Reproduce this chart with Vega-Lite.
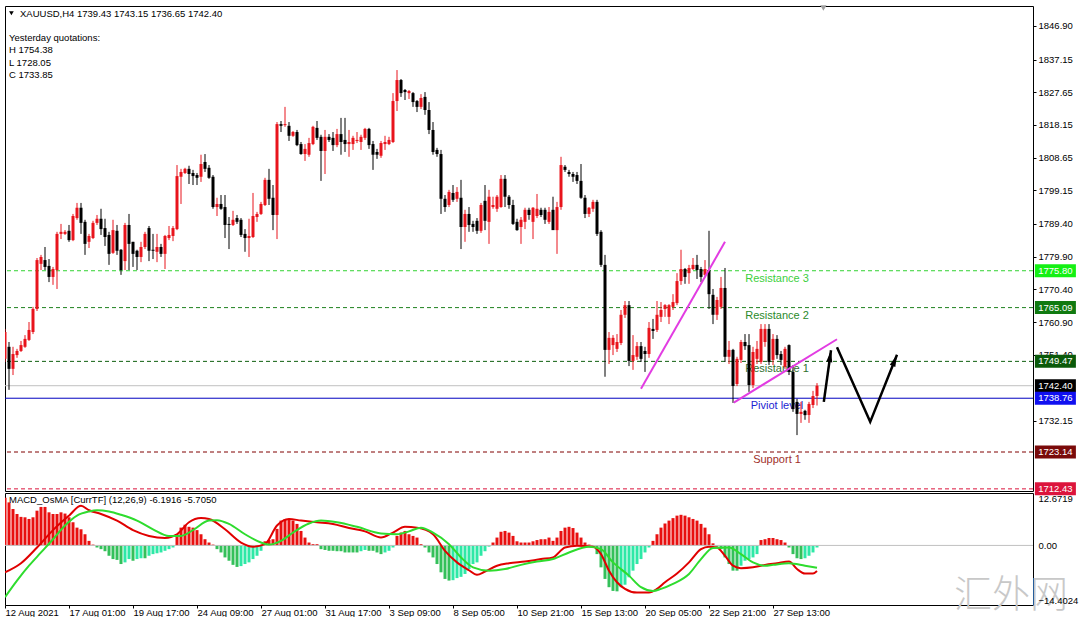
{
"$schema":"https://vega.github.io/schema/vega-lite/v6.json",
"background":"white",
"padding":{"left":4,"top":4,"right":0,"bottom":0},
"spacing":2,
"bounds":"flush",
"config":{"view":{"stroke":"black","strokeWidth":1},"font":"Liberation Sans","axis":{"labelFont":"Liberation Sans","labelFontSize":9.5,"labelColor":"black","tickColor":"black","domain":false,"grid":false,"labelOverlap":false},"scale":{"continuousPadding":0}},
"resolve":{"scale":{"x":"independent","y":"independent","color":"independent"}},
"datasets":{
"candles":[
{"i":0,"o":1750.2,"h":1758.9,"l":1749.3,"c":1758.0},{"i":1,"o":1753.7,"h":1755.1,"l":1741.2,"c":1747.3},{"i":2,"o":1747.3,"h":1753.7,"l":1745.5,"c":1751.6},{"i":3,"o":1751.3,"h":1753.1,"l":1750.5,"c":1752.5},{"i":4,"o":1752.5,"h":1755.4,"l":1752.2,"c":1754.2},{"i":5,"o":1753.7,"h":1757.1,"l":1753.4,"c":1756.0},{"i":6,"o":1755.7,"h":1760.9,"l":1755.4,"c":1758.6},{"i":7,"o":1758.0,"h":1765.3,"l":1757.4,"c":1764.7},{"i":8,"o":1764.7,"h":1779.5,"l":1764.1,"c":1778.9},{"i":9,"o":1777.8,"h":1780.4,"l":1776.0,"c":1779.8},
{"i":10,"o":1778.9,"h":1782.7,"l":1776.0,"c":1776.9},{"i":11,"o":1777.2,"h":1779.2,"l":1772.5,"c":1774.0},{"i":12,"o":1774.0,"h":1776.9,"l":1771.7,"c":1776.3},{"i":13,"o":1776.0,"h":1787.1,"l":1770.5,"c":1786.5},{"i":14,"o":1786.5,"h":1789.4,"l":1785.0,"c":1787.1},{"i":15,"o":1786.5,"h":1787.6,"l":1786.2,"c":1787.1},{"i":16,"o":1787.4,"h":1789.1,"l":1784.2,"c":1784.7},{"i":17,"o":1784.7,"h":1792.3,"l":1784.4,"c":1791.7},{"i":18,"o":1791.1,"h":1795.5,"l":1790.6,"c":1794.1},{"i":19,"o":1794.1,"h":1795.5,"l":1786.5,"c":1789.7},
{"i":20,"o":1790.0,"h":1790.6,"l":1780.4,"c":1783.6},{"i":21,"o":1784.2,"h":1786.5,"l":1782.4,"c":1785.9},{"i":22,"o":1785.3,"h":1790.3,"l":1785.0,"c":1789.7},{"i":23,"o":1789.7,"h":1792.0,"l":1789.1,"c":1790.9},{"i":24,"o":1790.9,"h":1793.8,"l":1786.2,"c":1787.9},{"i":25,"o":1788.2,"h":1790.9,"l":1783.0,"c":1785.6},{"i":26,"o":1786.2,"h":1787.1,"l":1777.5,"c":1780.7},{"i":27,"o":1781.0,"h":1790.6,"l":1780.7,"c":1787.6},{"i":28,"o":1787.4,"h":1789.1,"l":1780.4,"c":1781.6},{"i":29,"o":1781.9,"h":1782.1,"l":1774.6,"c":1776.0},
{"i":30,"o":1778.6,"h":1789.7,"l":1776.0,"c":1789.1},{"i":31,"o":1789.1,"h":1792.3,"l":1776.0,"c":1783.6},{"i":32,"o":1784.2,"h":1784.2,"l":1776.9,"c":1780.7},{"i":33,"o":1781.6,"h":1781.9,"l":1776.0,"c":1779.8},{"i":34,"o":1779.8,"h":1784.2,"l":1778.3,"c":1782.7},{"i":35,"o":1782.7,"h":1787.1,"l":1782.1,"c":1786.5},{"i":36,"o":1788.2,"h":1788.8,"l":1778.6,"c":1781.6},{"i":37,"o":1781.9,"h":1786.5,"l":1779.2,"c":1781.6},{"i":38,"o":1781.3,"h":1786.5,"l":1778.3,"c":1782.7},{"i":39,"o":1782.7,"h":1783.6,"l":1779.8,"c":1780.7},
{"i":40,"o":1780.7,"h":1786.2,"l":1776.3,"c":1785.9},{"i":41,"o":1785.3,"h":1788.8,"l":1784.7,"c":1786.2},{"i":42,"o":1785.9,"h":1788.8,"l":1784.4,"c":1788.2},{"i":43,"o":1787.9,"h":1806.5,"l":1787.6,"c":1803.3},{"i":44,"o":1803.1,"h":1805.4,"l":1795.2,"c":1804.5},{"i":45,"o":1804.2,"h":1805.7,"l":1803.9,"c":1805.4},{"i":46,"o":1805.4,"h":1806.3,"l":1801.0,"c":1803.9},{"i":47,"o":1804.2,"h":1805.1,"l":1800.7,"c":1803.3},{"i":48,"o":1803.6,"h":1804.2,"l":1800.7,"c":1802.8},{"i":49,"o":1803.1,"h":1809.5,"l":1801.6,"c":1806.8},
{"i":50,"o":1807.4,"h":1809.7,"l":1804.5,"c":1805.4},{"i":51,"o":1805.7,"h":1806.5,"l":1802.5,"c":1802.8},{"i":52,"o":1803.1,"h":1803.6,"l":1793.8,"c":1794.3},{"i":53,"o":1794.3,"h":1797.0,"l":1791.7,"c":1795.2},{"i":54,"o":1795.2,"h":1797.8,"l":1793.5,"c":1793.8},{"i":55,"o":1794.3,"h":1797.8,"l":1785.3,"c":1789.1},{"i":56,"o":1789.4,"h":1791.4,"l":1782.1,"c":1789.1},{"i":57,"o":1789.1,"h":1793.2,"l":1788.8,"c":1790.6},{"i":58,"o":1791.1,"h":1792.0,"l":1789.4,"c":1790.0},{"i":59,"o":1790.6,"h":1791.1,"l":1785.6,"c":1786.2},
{"i":60,"o":1786.5,"h":1787.9,"l":1781.3,"c":1785.3},{"i":61,"o":1785.3,"h":1790.9,"l":1779.8,"c":1785.9},{"i":62,"o":1785.6,"h":1798.4,"l":1785.3,"c":1791.7},{"i":63,"o":1791.4,"h":1792.9,"l":1790.0,"c":1792.3},{"i":64,"o":1792.3,"h":1795.8,"l":1792.0,"c":1795.2},{"i":65,"o":1794.9,"h":1802.8,"l":1794.6,"c":1802.2},{"i":66,"o":1802.2,"h":1805.4,"l":1794.9,"c":1796.7},{"i":67,"o":1797.0,"h":1800.7,"l":1787.6,"c":1792.0},{"i":68,"o":1792.0,"h":1819.0,"l":1785.0,"c":1818.4},{"i":69,"o":1818.4,"h":1819.3,"l":1816.1,"c":1817.9},
{"i":70,"o":1818.1,"h":1823.4,"l":1817.6,"c":1818.4},{"i":71,"o":1817.9,"h":1819.0,"l":1813.5,"c":1815.0},{"i":72,"o":1815.0,"h":1816.4,"l":1814.7,"c":1816.1},{"i":73,"o":1816.1,"h":1816.7,"l":1812.0,"c":1812.3},{"i":74,"o":1812.6,"h":1813.2,"l":1809.5,"c":1809.7},{"i":75,"o":1809.7,"h":1812.6,"l":1807.7,"c":1811.2},{"i":76,"o":1809.5,"h":1814.4,"l":1808.9,"c":1812.9},{"i":77,"o":1812.6,"h":1817.9,"l":1812.3,"c":1817.6},{"i":78,"o":1817.3,"h":1819.3,"l":1813.8,"c":1814.4},{"i":79,"o":1814.7,"h":1815.3,"l":1801.9,"c":1810.6},
{"i":80,"o":1810.6,"h":1816.7,"l":1803.9,"c":1814.7},{"i":81,"o":1814.7,"h":1815.5,"l":1813.2,"c":1813.8},{"i":82,"o":1814.4,"h":1816.1,"l":1810.6,"c":1812.3},{"i":83,"o":1812.3,"h":1817.0,"l":1811.7,"c":1815.5},{"i":84,"o":1815.5,"h":1820.2,"l":1809.5,"c":1813.2},{"i":85,"o":1813.8,"h":1820.2,"l":1810.3,"c":1812.6},{"i":86,"o":1812.6,"h":1816.7,"l":1808.9,"c":1813.2},{"i":87,"o":1812.6,"h":1815.0,"l":1810.9,"c":1814.4},{"i":88,"o":1813.5,"h":1816.1,"l":1812.9,"c":1813.8},{"i":89,"o":1813.2,"h":1815.3,"l":1810.9,"c":1814.7},
{"i":90,"o":1814.4,"h":1817.3,"l":1813.8,"c":1817.0},{"i":91,"o":1817.0,"h":1817.3,"l":1811.2,"c":1812.3},{"i":92,"o":1812.6,"h":1813.5,"l":1805.1,"c":1809.5},{"i":93,"o":1810.3,"h":1811.2,"l":1808.3,"c":1809.5},{"i":94,"o":1809.2,"h":1813.5,"l":1808.6,"c":1812.9},{"i":95,"o":1812.6,"h":1815.0,"l":1810.9,"c":1813.2},{"i":96,"o":1812.6,"h":1814.7,"l":1812.3,"c":1813.8},{"i":97,"o":1813.2,"h":1827.4,"l":1812.9,"c":1825.1},{"i":98,"o":1825.1,"h":1834.1,"l":1822.2,"c":1831.2},{"i":99,"o":1831.2,"h":1831.5,"l":1826.3,"c":1827.4},
{"i":100,"o":1828.3,"h":1828.6,"l":1825.4,"c":1827.7},{"i":101,"o":1827.4,"h":1828.3,"l":1825.7,"c":1828.0},{"i":102,"o":1827.4,"h":1827.7,"l":1823.4,"c":1824.8},{"i":103,"o":1825.1,"h":1825.4,"l":1821.9,"c":1823.4},{"i":104,"o":1823.4,"h":1827.1,"l":1822.8,"c":1826.0},{"i":105,"o":1826.3,"h":1827.7,"l":1821.1,"c":1822.5},{"i":106,"o":1822.5,"h":1824.8,"l":1815.5,"c":1816.7},{"i":107,"o":1816.7,"h":1819.0,"l":1809.5,"c":1810.3},{"i":108,"o":1810.9,"h":1811.5,"l":1808.9,"c":1809.7},{"i":109,"o":1809.7,"h":1810.9,"l":1792.3,"c":1796.7},
{"i":110,"o":1796.7,"h":1797.8,"l":1792.9,"c":1794.3},{"i":111,"o":1794.9,"h":1799.3,"l":1794.3,"c":1798.7},{"i":112,"o":1798.4,"h":1800.7,"l":1795.8,"c":1796.4},{"i":113,"o":1796.7,"h":1800.1,"l":1795.8,"c":1798.7},{"i":114,"o":1797.0,"h":1802.2,"l":1782.1,"c":1788.5},{"i":115,"o":1788.5,"h":1793.5,"l":1784.2,"c":1792.3},{"i":116,"o":1792.3,"h":1794.3,"l":1787.1,"c":1789.1},{"i":117,"o":1789.4,"h":1790.3,"l":1787.1,"c":1788.5},{"i":118,"o":1790.3,"h":1791.1,"l":1786.5,"c":1787.4},{"i":119,"o":1787.4,"h":1795.5,"l":1786.8,"c":1794.9},
{"i":120,"o":1796.1,"h":1800.7,"l":1787.6,"c":1790.3},{"i":121,"o":1790.0,"h":1799.3,"l":1783.6,"c":1797.3},{"i":122,"o":1794.3,"h":1797.3,"l":1793.8,"c":1794.9},{"i":123,"o":1793.8,"h":1797.8,"l":1792.9,"c":1797.3},{"i":124,"o":1794.3,"h":1803.6,"l":1794.1,"c":1802.5},{"i":125,"o":1802.5,"h":1803.6,"l":1794.3,"c":1797.3},{"i":126,"o":1797.3,"h":1797.8,"l":1793.8,"c":1794.9},{"i":127,"o":1794.9,"h":1796.4,"l":1789.1,"c":1789.4},{"i":128,"o":1790.0,"h":1790.9,"l":1787.4,"c":1787.6},{"i":129,"o":1788.5,"h":1791.4,"l":1783.6,"c":1790.6},
{"i":130,"o":1790.0,"h":1794.1,"l":1787.9,"c":1793.5},{"i":131,"o":1793.5,"h":1794.1,"l":1790.6,"c":1792.0},{"i":132,"o":1790.0,"h":1794.3,"l":1785.0,"c":1794.1},{"i":133,"o":1791.7,"h":1798.1,"l":1791.1,"c":1793.8},{"i":134,"o":1793.5,"h":1794.1,"l":1791.4,"c":1792.0},{"i":135,"o":1793.5,"h":1794.1,"l":1789.4,"c":1790.6},{"i":136,"o":1790.0,"h":1794.3,"l":1789.4,"c":1792.9},{"i":137,"o":1793.5,"h":1797.3,"l":1788.5,"c":1787.6},{"i":138,"o":1787.6,"h":1795.8,"l":1780.7,"c":1794.3},{"i":139,"o":1794.3,"h":1808.9,"l":1793.5,"c":1806.5},
{"i":140,"o":1806.0,"h":1806.5,"l":1804.5,"c":1805.1},{"i":141,"o":1804.5,"h":1805.1,"l":1803.1,"c":1803.9},{"i":142,"o":1803.9,"h":1804.5,"l":1801.6,"c":1803.1},{"i":143,"o":1803.6,"h":1804.5,"l":1801.0,"c":1801.9},{"i":144,"o":1801.9,"h":1806.8,"l":1796.7,"c":1797.0},{"i":145,"o":1797.0,"h":1797.8,"l":1791.1,"c":1792.3},{"i":146,"o":1792.3,"h":1794.3,"l":1791.4,"c":1794.1},{"i":147,"o":1793.8,"h":1796.4,"l":1792.9,"c":1795.8},{"i":148,"o":1795.8,"h":1796.4,"l":1785.9,"c":1786.5},{"i":149,"o":1787.1,"h":1787.6,"l":1776.9,"c":1777.5},
{"i":150,"o":1777.5,"h":1780.4,"l":1745.0,"c":1752.8},{"i":151,"o":1752.8,"h":1758.0,"l":1748.7,"c":1756.3},{"i":152,"o":1754.2,"h":1757.1,"l":1751.3,"c":1756.3},{"i":153,"o":1753.1,"h":1757.4,"l":1752.2,"c":1755.1},{"i":154,"o":1754.8,"h":1764.4,"l":1754.2,"c":1763.0},{"i":155,"o":1763.0,"h":1767.0,"l":1762.1,"c":1765.8},{"i":156,"o":1765.8,"h":1767.0,"l":1748.1,"c":1749.6},{"i":157,"o":1749.6,"h":1757.1,"l":1747.0,"c":1751.3},{"i":158,"o":1750.8,"h":1755.1,"l":1749.9,"c":1753.9},{"i":159,"o":1753.9,"h":1755.1,"l":1749.3,"c":1750.2},
{"i":160,"o":1752.5,"h":1753.7,"l":1746.4,"c":1751.6},{"i":161,"o":1751.6,"h":1760.9,"l":1750.5,"c":1759.2},{"i":162,"o":1758.9,"h":1761.8,"l":1756.0,"c":1758.3},{"i":163,"o":1758.6,"h":1767.0,"l":1758.0,"c":1763.0},{"i":164,"o":1762.4,"h":1766.7,"l":1760.9,"c":1764.4},{"i":165,"o":1764.7,"h":1766.1,"l":1762.4,"c":1765.8},{"i":166,"o":1762.4,"h":1766.1,"l":1760.3,"c":1765.8},{"i":167,"o":1765.3,"h":1769.0,"l":1764.4,"c":1766.7},{"i":168,"o":1766.4,"h":1775.1,"l":1765.8,"c":1772.8},{"i":169,"o":1772.8,"h":1781.9,"l":1771.7,"c":1776.3},
{"i":170,"o":1776.3,"h":1776.6,"l":1772.0,"c":1774.0},{"i":171,"o":1775.1,"h":1777.5,"l":1772.0,"c":1776.6},{"i":172,"o":1776.3,"h":1779.5,"l":1776.0,"c":1777.5},{"i":173,"o":1777.5,"h":1780.4,"l":1773.4,"c":1776.0},{"i":174,"o":1776.3,"h":1776.9,"l":1772.5,"c":1774.0},{"i":175,"o":1774.6,"h":1778.9,"l":1774.0,"c":1776.3},{"i":176,"o":1776.0,"h":1787.4,"l":1764.7,"c":1769.0},{"i":177,"o":1768.8,"h":1770.5,"l":1760.3,"c":1763.0},{"i":178,"o":1763.0,"h":1768.2,"l":1761.5,"c":1767.3},{"i":179,"o":1765.3,"h":1774.0,"l":1764.7,"c":1770.8},
{"i":180,"o":1770.8,"h":1776.6,"l":1749.3,"c":1750.8},{"i":181,"o":1750.8,"h":1755.4,"l":1748.7,"c":1752.8},{"i":182,"o":1752.8,"h":1753.1,"l":1737.4,"c":1742.3},{"i":183,"o":1742.9,"h":1750.8,"l":1742.3,"c":1750.2},{"i":184,"o":1749.9,"h":1755.7,"l":1749.0,"c":1755.1},{"i":185,"o":1755.1,"h":1757.4,"l":1752.8,"c":1753.9},{"i":186,"o":1754.2,"h":1757.4,"l":1740.6,"c":1742.6},{"i":187,"o":1742.6,"h":1753.7,"l":1741.7,"c":1752.2},{"i":188,"o":1750.2,"h":1755.4,"l":1748.7,"c":1753.1},{"i":189,"o":1749.3,"h":1760.3,"l":1748.7,"c":1758.9},
{"i":190,"o":1755.1,"h":1760.3,"l":1753.7,"c":1758.9},{"i":191,"o":1758.9,"h":1760.3,"l":1748.4,"c":1749.3},{"i":192,"o":1749.9,"h":1757.4,"l":1748.4,"c":1756.0},{"i":193,"o":1756.0,"h":1757.1,"l":1750.2,"c":1751.3},{"i":194,"o":1751.6,"h":1752.5,"l":1748.4,"c":1749.9},{"i":195,"o":1747.9,"h":1753.7,"l":1747.3,"c":1753.1},{"i":196,"o":1754.2,"h":1754.4,"l":1745.5,"c":1746.4},{"i":197,"o":1746.4,"h":1748.4,"l":1734.8,"c":1735.6},{"i":198,"o":1737.7,"h":1738.6,"l":1728.05,"c":1734.2},{"i":199,"o":1734.2,"h":1737.7,"l":1731.6,"c":1734.8},
{"i":200,"o":1735.1,"h":1735.4,"l":1732.5,"c":1733.85},{"i":201,"o":1733.9,"h":1737.7,"l":1731.6,"c":1737.1},{"i":202,"o":1736.8,"h":1740.9,"l":1735.9,"c":1739.4},{"i":203,"o":1739.43,"h":1743.15,"l":1736.65,"c":1742.4}
],
"levels":[{"k":"R3","p":1775.8,"t":"Resistance 3"},{"k":"R2","p":1765.09,"t":"Resistance 2"},{"k":"R1","p":1749.47,"t":"Resistance 1"},{"k":"Cur","p":1742.4,"t":""},{"k":"PP","p":1738.76,"t":"Piviot level"},{"k":"S1","p":1723.14,"t":"Support 1"},{"k":"S2","p":1712.43,"t":""}],
"trend":[{"g":"a","i":159,"p":1741.5},{"g":"a","i":180,"p":1784.2},{"g":"b","i":182.2,"p":1737.5},{"g":"b","i":208,"p":1755.9}],
"arrows":[{"g":"a1","i":204.7,"p":1737.7},{"g":"a1","i":206.5,"p":1752.7},{"g":"a2","i":208,"p":1753.6},{"g":"a2","i":216.3,"p":1731.9},{"g":"a2","i":223,"p":1751.4}],
"notes":[{"i":3.75,"p":1850.5,"t":"XAUUSD,H4  1739.43 1743.15 1736.65 1742.40"},{"i":1,"p":1843.4,"t":"Yesterday quotations:"},{"i":1,"p":1839.85,"t":"H 1754.38"},{"i":1,"p":1836.25,"t":"L 1728.05"},{"i":1,"p":1832.75,"t":"C 1733.85"}],
"hist":[
{"i":0,"h":11.5},{"i":1,"h":10.4},{"i":2,"h":8.8},{"i":3,"h":7.6},{"i":4,"h":6.9},{"i":5,"h":6.8},{"i":6,"h":6.4},{"i":7,"h":6.8},{"i":8,"h":8.4},{"i":9,"h":9.3},{"i":10,"h":9.3},{"i":11,"h":8.0},{"i":12,"h":7.6},{"i":13,"h":7.6},{"i":14,"h":8.0},{"i":15,"h":7.7},{"i":16,"h":6.8},{"i":17,"h":5.6},{"i":18,"h":4.3},{"i":19,"h":3.9},
{"i":20,"h":2.7},{"i":21,"h":1.1},{"i":22,"h":0.2},{"i":23,"h":-0.5},{"i":24,"h":-0.9},{"i":25,"h":-1.4},{"i":26,"h":-2.5},{"i":27,"h":-3.3},{"i":28,"h":-3.5},{"i":29,"h":-4.5},{"i":30,"h":-4.1},{"i":31,"h":-3.3},{"i":32,"h":-3.7},{"i":33,"h":-3.3},{"i":34,"h":-3.1},{"i":35,"h":-3.1},{"i":36,"h":-2.5},{"i":37,"h":-2.1},{"i":38,"h":-1.9},{"i":39,"h":-1.7},
{"i":40,"h":-1.3},{"i":41,"h":-0.9},{"i":42,"h":-0.5},{"i":43,"h":2.7},{"i":44,"h":4.3},{"i":45,"h":5.0},{"i":46,"h":4.5},{"i":47,"h":4.3},{"i":48,"h":3.7},{"i":49,"h":2.7},{"i":50,"h":1.5},{"i":51,"h":0.7},{"i":52,"h":0.2},{"i":53,"h":-0.9},{"i":54,"h":-1.7},{"i":55,"h":-2.9},{"i":56,"h":-3.7},{"i":57,"h":-4.7},{"i":58,"h":-5.2},{"i":59,"h":-5.0},
{"i":60,"h":-4.5},{"i":61,"h":-4.1},{"i":62,"h":-3.3},{"i":63,"h":-2.5},{"i":64,"h":-1.3},{"i":65,"h":1.0},{"i":66,"h":1.3},{"i":67,"h":1.5},{"i":68,"h":4.0},{"i":69,"h":6.0},{"i":70,"h":6.4},{"i":71,"h":6.4},{"i":72,"h":6.0},{"i":73,"h":5.2},{"i":74,"h":3.5},{"i":75,"h":1.9},{"i":76,"h":0.7},{"i":77,"h":0.3},{"i":78,"h":0.3},{"i":79,"h":-0.9},
{"i":80,"h":-1.1},{"i":81,"h":-1.3},{"i":82,"h":-1.3},{"i":83,"h":-1.4},{"i":84,"h":-1.4},{"i":85,"h":-1.7},{"i":86,"h":-1.7},{"i":87,"h":-1.7},{"i":88,"h":-1.7},{"i":89,"h":-1.4},{"i":90,"h":-1.1},{"i":91,"h":-1.3},{"i":92,"h":-1.3},{"i":93,"h":-1.7},{"i":94,"h":-2.1},{"i":95,"h":-1.7},{"i":96,"h":-1.3},{"i":97,"h":-0.5},{"i":98,"h":2.3},{"i":99,"h":3.1},
{"i":100,"h":3.5},{"i":101,"h":2.7},{"i":102,"h":2.3},{"i":103,"h":1.9},{"i":104,"h":0.3},{"i":105,"h":-0.5},{"i":106,"h":-1.7},{"i":107,"h":-2.9},{"i":108,"h":-4.5},{"i":109,"h":-6.5},{"i":110,"h":-8.1},{"i":111,"h":-8.5},{"i":112,"h":-8.4},{"i":113,"h":-7.9},{"i":114,"h":-7.6},{"i":115,"h":-6.9},{"i":116,"h":-5.7},{"i":117,"h":-4.5},{"i":118,"h":-4.1},{"i":119,"h":-2.5},
{"i":120,"h":-1.4},{"i":121,"h":-0.3},{"i":122,"h":0.7},{"i":123,"h":1.9},{"i":124,"h":3.3},{"i":125,"h":3.5},{"i":126,"h":3.1},{"i":127,"h":2.3},{"i":128,"h":1.0},{"i":129,"h":0.7},{"i":130,"h":0.7},{"i":131,"h":0.7},{"i":132,"h":1.0},{"i":133,"h":1.3},{"i":134,"h":1.5},{"i":135,"h":1.5},{"i":136,"h":1.9},{"i":137,"h":1.1},{"i":138,"h":1.9},{"i":139,"h":3.5},
{"i":140,"h":4.3},{"i":141,"h":4.5},{"i":142,"h":4.2},{"i":143,"h":3.1},{"i":144,"h":1.9},{"i":145,"h":0.7},{"i":146,"h":0.2},{"i":147,"h":-0.5},{"i":148,"h":-2.1},{"i":149,"h":-5.3},{"i":150,"h":-8.1},{"i":151,"h":-10.1},{"i":152,"h":-11.0},{"i":153,"h":-11.1},{"i":154,"h":-10.1},{"i":155,"h":-9.5},{"i":156,"h":-7.7},{"i":157,"h":-6.1},{"i":158,"h":-4.5},{"i":159,"h":-3.3},
{"i":160,"h":-1.7},{"i":161,"h":-0.5},{"i":162,"h":1.1},{"i":163,"h":2.7},{"i":164,"h":4.3},{"i":165,"h":5.3},{"i":166,"h":6.0},{"i":167,"h":6.6},{"i":168,"h":7.2},{"i":169,"h":7.4},{"i":170,"h":7.2},{"i":171,"h":6.8},{"i":172,"h":6.4},{"i":173,"h":6.0},{"i":174,"h":5.2},{"i":175,"h":4.3},{"i":176,"h":2.7},{"i":177,"h":0.5},{"i":178,"h":-0.3},{"i":179,"h":-0.9},
{"i":180,"h":-2.9},{"i":181,"h":-4.5},{"i":182,"h":-6.1},{"i":183,"h":-6.1},{"i":184,"h":-4.9},{"i":185,"h":-3.7},{"i":186,"h":-3.3},{"i":187,"h":-2.9},{"i":188,"h":-2.1},{"i":189,"h":1.3},{"i":190,"h":1.5},{"i":191,"h":1.8},{"i":192,"h":1.8},{"i":193,"h":1.5},{"i":194,"h":1.3},{"i":195,"h":0.7},{"i":196,"h":-0.5},{"i":197,"h":-2.1},{"i":198,"h":-3.1},{"i":199,"h":-3.3},
{"i":200,"h":-3.1},{"i":201,"h":-2.5},{"i":202,"h":-1.7},{"i":203,"h":-0.5}
],
"lines":[
{"k":"m","i":0,"v":-6.5},{"k":"m","i":4,"v":-4.3},{"k":"m","i":8,"v":-0.5},{"k":"m","i":12,"v":3.7},{"k":"m","i":16,"v":7.2},{"k":"m","i":19,"v":9.6},{"k":"m","i":21,"v":8.5},{"k":"m","i":24,"v":7.6},{"k":"m","i":28,"v":6.0},{"k":"m","i":32,"v":3.7},{"k":"m","i":36,"v":2.3},{"k":"m","i":40,"v":1.8},{"k":"m","i":43,"v":2.7},{"k":"m","i":46,"v":5.6},{"k":"m","i":49,"v":6.6},{"k":"m","i":51,"v":6.4},{"k":"m","i":55,"v":3.9},{"k":"m","i":59,"v":0.7},{"k":"m","i":62,"v":-0.3},{"k":"m","i":65,"v":0.3},{"k":"m","i":68,"v":4.8},{"k":"m","i":71,"v":6.4},{"k":"m","i":74,"v":6.0},{"k":"m","i":78,"v":5.6},{"k":"m","i":82,"v":5.2},{"k":"m","i":86,"v":4.2},{"k":"m","i":90,"v":3.4},{"k":"m","i":94,"v":1.9},{"k":"m","i":97,"v":3.1},{"k":"m","i":100,"v":4.5},{"k":"m","i":103,"v":4.3},{"k":"m","i":107,"v":2.7},{"k":"m","i":110,"v":-1.3},{"k":"m","i":113,"v":-4.1},{"k":"m","i":116,"v":-6.0},{"k":"m","i":118,"v":-7.1},{"k":"m","i":120,"v":-6.3},{"k":"m","i":123,"v":-4.9},{"k":"m","i":126,"v":-4.3},{"k":"m","i":130,"v":-3.9},{"k":"m","i":134,"v":-3.3},{"k":"m","i":137,"v":-2.9},{"k":"m","i":140,"v":-0.5},{"k":"m","i":143,"v":-0.1},{"k":"m","i":147,"v":-0.3},{"k":"m","i":149,"v":-2.1},{"k":"m","i":151,"v":-6.1},{"k":"m","i":153,"v":-8.9},{"k":"m","i":155,"v":-10.5},{"k":"m","i":158,"v":-11.4},{"k":"m","i":161,"v":-11.4},{"k":"m","i":163,"v":-10.5},{"k":"m","i":165,"v":-8.9},{"k":"m","i":168,"v":-6.8},{"k":"m","i":171,"v":-4.1},{"k":"m","i":174,"v":-0.9},{"k":"m","i":176,"v":-0.3},{"k":"m","i":178,"v":-0.5},{"k":"m","i":180,"v":-2.5},{"k":"m","i":182,"v":-4.9},{"k":"m","i":184,"v":-5.5},{"k":"m","i":187,"v":-5.3},{"k":"m","i":190,"v":-4.7},{"k":"m","i":193,"v":-4.3},{"k":"m","i":196,"v":-3.9},{"k":"m","i":198,"v":-5.7},{"k":"m","i":200,"v":-6.8},{"k":"m","i":202,"v":-6.8},{"k":"m","i":203,"v":-6.2},
{"k":"s","i":0,"v":-12.5},{"k":"s","i":3,"v":-8.5},{"k":"s","i":6,"v":-4.9},{"k":"s","i":9,"v":-1.7},{"k":"s","i":12,"v":1.5},{"k":"s","i":15,"v":4.8},{"k":"s","i":18,"v":7.2},{"k":"s","i":21,"v":8.2},{"k":"s","i":23,"v":8.5},{"k":"s","i":26,"v":8.2},{"k":"s","i":29,"v":7.4},{"k":"s","i":33,"v":6.0},{"k":"s","i":37,"v":3.9},{"k":"s","i":41,"v":2.3},{"k":"s","i":44,"v":2.3},{"k":"s","i":47,"v":3.7},{"k":"s","i":51,"v":6.0},{"k":"s","i":53,"v":6.1},{"k":"s","i":56,"v":5.2},{"k":"s","i":60,"v":2.7},{"k":"s","i":64,"v":0.7},{"k":"s","i":66,"v":0.2},{"k":"s","i":69,"v":1.1},{"k":"s","i":72,"v":3.1},{"k":"s","i":76,"v":5.3},{"k":"s","i":79,"v":6.0},{"k":"s","i":83,"v":5.6},{"k":"s","i":88,"v":4.5},{"k":"s","i":94,"v":2.9},{"k":"s","i":98,"v":2.7},{"k":"s","i":101,"v":3.4},{"k":"s","i":104,"v":4.3},{"k":"s","i":107,"v":3.1},{"k":"s","i":111,"v":0.3},{"k":"s","i":114,"v":-2.9},{"k":"s","i":117,"v":-5.3},{"k":"s","i":121,"v":-6.1},{"k":"s","i":125,"v":-5.7},{"k":"s","i":129,"v":-4.7},{"k":"s","i":133,"v":-3.9},{"k":"s","i":137,"v":-3.3},{"k":"s","i":141,"v":-1.7},{"k":"s","i":146,"v":-0.3},{"k":"s","i":149,"v":-0.9},{"k":"s","i":152,"v":-4.1},{"k":"s","i":156,"v":-7.3},{"k":"s","i":159,"v":-10.1},{"k":"s","i":162,"v":-11.0},{"k":"s","i":164,"v":-10.5},{"k":"s","i":167,"v":-9.3},{"k":"s","i":171,"v":-6.9},{"k":"s","i":174,"v":-3.3},{"k":"s","i":177,"v":-0.6},{"k":"s","i":181,"v":-0.5},{"k":"s","i":184,"v":-2.1},{"k":"s","i":187,"v":-4.1},{"k":"s","i":190,"v":-4.9},{"k":"s","i":192,"v":-4.7},{"k":"s","i":196,"v":-4.3},{"k":"s","i":200,"v":-4.9},{"k":"s","i":203,"v":-5.4}
]
},
"vconcat":[
{
"width":1028,"height":485,
"resolve":{"scale":{"color":"independent","strokeDash":"independent"}},
"layer":[
{"data":{"name":"levels"},"mark":{"type":"rule","strokeWidth":1},
 "encoding":{
  "y":{"field":"p","type":"quantitative","scale":{"domain":[1711.81,1852.71],"nice":false,"zero":false,"padding":0},
   "axis":{"orient":"right","values":[1846.9,1837.15,1827.65,1818.15,1808.65,1799.15,1789.4,1779.9,1770.4,1760.9,1751.4,1732.15],"format":".2f","tickSize":3,"labelPadding":2,"title":null,"labelOverlap":false,"labelFlush":false}},
  "color":{"field":"k","type":"nominal","scale":{"domain":["R3","R2","R1","Cur","PP","S1","S2"],"range":["#32d232","#1e821e","#0f5f0f","#c0c0c0","#0000c0","#800000","#dc143c"]},"legend":null},
  "strokeDash":{"field":"k","type":"nominal","scale":{"domain":["R3","R2","R1","Cur","PP","S1","S2"],"range":[[4,3],[4,3],[4,3],[1,0],[1,0],[4,3],[4,3]]},"legend":null}}},
{"data":{"name":"levels"},"transform":[{"filter":"datum.t != ''"}],
 "mark":{"type":"text","align":"center","baseline":"middle","dy":8,"fontSize":11,"font":"Liberation Sans"},
 "encoding":{"x":{"datum":193,"type":"quantitative","scale":{"domain":[0,257],"nice":false,"zero":false,"padding":0},"axis":null},
  "y":{"field":"p","type":"quantitative"},"text":{"field":"t"},
  "color":{"field":"k","type":"nominal","scale":{"domain":["R3","R2","R1","PP","S1"],"range":["#3ccf3c","#2a8a2a","#2f6f2f","#1e1ed2","#a0302a"]},"legend":null}}},
{"data":{"name":"candles"},"transform":[{"calculate":"datum.c >= datum.o ? 'up' : 'down'","as":"dir"}],
 "mark":{"type":"rule","strokeWidth":1,"clip":true},
 "encoding":{"x":{"field":"i","type":"quantitative","scale":{"domain":[0,257],"nice":false,"zero":false,"padding":0},"axis":null},"y":{"field":"l","type":"quantitative"},"y2":{"field":"h"},
  "color":{"field":"dir","type":"nominal","scale":{"domain":["up","down"],"range":["#e8141c","#000000"]},"legend":null}}},
{"data":{"name":"candles"},"transform":[{"calculate":"datum.c >= datum.o ? 'up' : 'down'","as":"dir"}],
 "mark":{"type":"bar","width":3,"orient":"vertical","clip":true},
 "encoding":{"x":{"field":"i","type":"quantitative","scale":{"domain":[0,257],"nice":false,"zero":false,"padding":0},"axis":null},"y":{"field":"o","type":"quantitative"},"y2":{"field":"c"},
  "color":{"field":"dir","type":"nominal","scale":{"domain":["up","down"],"range":["#e8141c","#000000"]},"legend":null}}},
{"data":{"name":"trend"},"mark":{"type":"line","color":"#e23ce2","strokeWidth":2},
 "encoding":{"x":{"field":"i","type":"quantitative","axis":null},"y":{"field":"p","type":"quantitative"},"detail":{"field":"g"}}},
{"data":{"name":"arrows"},"mark":{"type":"line","color":"#000000","strokeWidth":2.5,"strokeJoin":"miter"},
 "encoding":{"x":{"field":"i","type":"quantitative","axis":null},"y":{"field":"p","type":"quantitative"},"detail":{"field":"g"}}},
{"data":{"values":[{}]},"mark":{"type":"point","shape":"M0,-1L0.42,0.7L-0.42,0.7Z","filled":true,"color":"#000000","opacity":1,"size":200,"angle":8},
 "encoding":{"x":{"datum":206.25,"type":"quantitative","axis":null},"y":{"datum":1750.7,"type":"quantitative"}}},
{"data":{"values":[{}]},"mark":{"type":"point","shape":"M0,-1L0.42,0.7L-0.42,0.7Z","filled":true,"color":"#000000","opacity":1,"size":200,"angle":22},
 "encoding":{"x":{"datum":222.35,"type":"quantitative","axis":null},"y":{"datum":1749.5,"type":"quantitative"}}},
{"data":{"name":"levels"},"mark":{"type":"point","shape":"M-1,-0.317L1,-0.317L1,0.317L-1,0.317Z","filled":true,"opacity":1,"size":1681,"strokeWidth":0},
 "encoding":{"x":{"datum":262.6,"type":"quantitative","axis":null},"y":{"field":"p","type":"quantitative"},
  "color":{"field":"k","type":"nominal","scale":{"domain":["R3","R2","R1","Cur","PP","S1","S2"],"range":["#14f014","#107a10","#0a5a0a","#000000","#1010f0","#7a0a0a","#dc143c"]},"legend":null}}},
{"data":{"name":"levels"},"mark":{"type":"text","align":"center","baseline":"middle","fontSize":9.5,"color":"white","font":"Liberation Sans"},
 "encoding":{"x":{"datum":262.6,"type":"quantitative","axis":null},"y":{"field":"p","type":"quantitative"},"text":{"field":"p","type":"quantitative","format":".2f"}}},
{"data":{"name":"notes"},"mark":{"type":"text","align":"left","baseline":"middle","fontSize":9.5,"color":"black","font":"Liberation Sans"},
 "encoding":{"x":{"field":"i","type":"quantitative","axis":null},"y":{"field":"p","type":"quantitative"},"text":{"field":"t"}}},
{"data":{"values":[{}]},"mark":{"type":"point","shape":"triangle-down","filled":true,"color":"black","opacity":1,"size":22},
 "encoding":{"x":{"datum":1.6,"type":"quantitative","axis":null},"y":{"datum":1850.6,"type":"quantitative"}}},
{"data":{"values":[{}]},"mark":{"type":"point","shape":"triangle-down","filled":true,"color":"#a0a0a0","opacity":1,"size":40},
 "encoding":{"x":{"datum":204.6,"type":"quantitative","axis":null},"y":{"datum":1852.1,"type":"quantitative"}}}
]
},
{
"width":1028,"height":112,
"resolve":{"scale":{"color":"independent"}},
"layer":[
{"data":{"name":"hist"},
 "transform":[{"window":[{"op":"lag","field":"h","as":"hp"}],"sort":[{"field":"i","order":"ascending"}]},{"calculate":"datum.h >= 0 ? 'pos' : (datum.hp != null && datum.h > datum.hp ? 'rise' : 'fall')","as":"st"}],
 "mark":{"type":"bar","width":3,"orient":"vertical","clip":true},
 "encoding":{
  "x":{"field":"i","type":"quantitative","scale":{"domain":[0,257],"nice":false,"zero":false,"padding":0},
   "axis":{"values":[0,16,32,48,64,80,96,112,128,144,160,176,192],"labelExpr":"['12 Aug 2021','17 Aug 01:00','19 Aug 17:00','24 Aug 09:00','27 Aug 01:00','31 Aug 17:00','3 Sep 09:00','8 Sep 05:00','10 Sep 21:00','15 Sep 13:00','20 Sep 05:00','22 Sep 21:00','27 Sep 13:00'][round(datum.value/16)]","labelAlign":"left","labelPadding":-1,"tickSize":3,"labelFlush":false,"labelOverlap":false,"title":null}},
  "y":{"field":"h","type":"quantitative","scale":{"domain":[-14.4024,12.6719],"nice":false,"zero":false,"padding":0},
   "axis":{"orient":"right","values":[12.6719,0,-14.4024],"labelExpr":"datum.value == 0 ? '0.00' : format(datum.value, '.4f')","tickSize":0,"labelPadding":5,"labelFlush":true,"labelOverlap":false,"title":null,"zindex":1}},
  "color":{"field":"st","type":"nominal","scale":{"domain":["pos","fall","rise"],"range":["#e81010","#34c05a","#2ee8a6"]},"legend":null}}},
{"data":{"values":[{}]},"mark":{"type":"rule","color":"#c0c0c0","strokeWidth":1},"encoding":{"y":{"datum":0,"type":"quantitative"}}},
{"data":{"name":"lines"},"mark":{"type":"line","strokeWidth":2,"interpolate":"monotone","clip":true},
 "encoding":{"x":{"field":"i","type":"quantitative"},"y":{"field":"v","type":"quantitative"},
  "color":{"field":"k","type":"nominal","scale":{"domain":["m","s"],"range":["#e00000","#2edc2e"]},"legend":null}}},
{"data":{"values":[{}]},"mark":{"type":"text","align":"left","baseline":"middle","fontSize":9.5,"color":"black","font":"Liberation Sans","text":"MACD_OsMA [CurrTF] (12,26,9) -6.1916 -5.7050"},
 "encoding":{"x":{"datum":1,"type":"quantitative"},"y":{"datum":10.9,"type":"quantitative"}}},
{"data":{"values":[{}]},"mark":{"type":"text","align":"center","baseline":"middle","fontSize":38,"color":"#c8c8c8","font":"Noto Sans CJK SC","fontWeight":300,"text":"汇外网"},
 "encoding":{"x":{"datum":251.5,"type":"quantitative"},"y":{"datum":-12.3,"type":"quantitative"}}}
]
}
]
}
